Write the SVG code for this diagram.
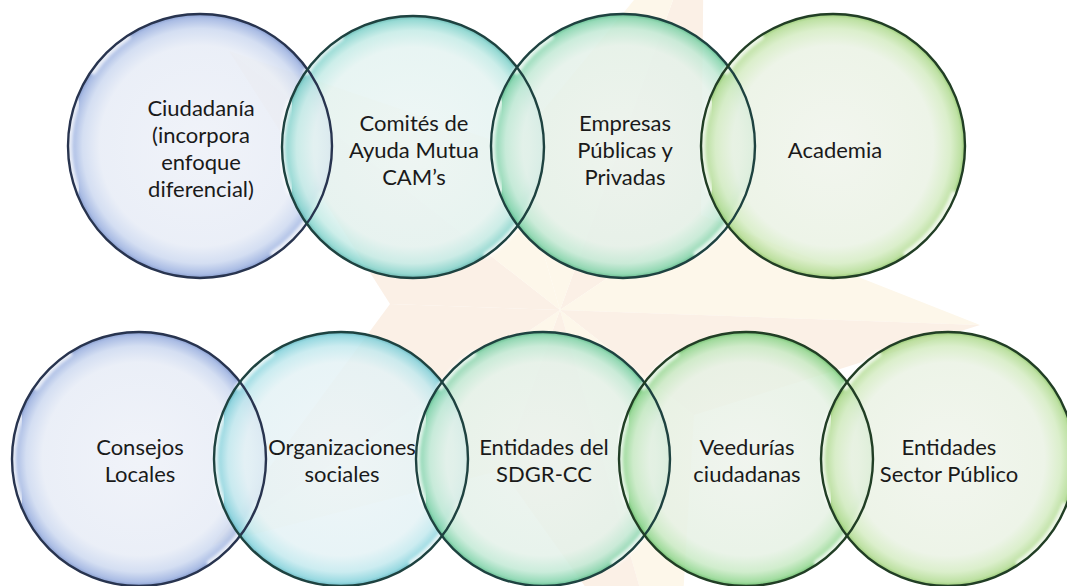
<svg xmlns="http://www.w3.org/2000/svg" width="1067" height="586" viewBox="0 0 1067 586">
  <defs>
    <style>
      .lbl { font-family: "Lato", "Carlito", "Liberation Sans", sans-serif; font-size: 22px; font-weight: 400; fill: #1a1a1a; text-anchor: middle; }
      .bub { fill-opacity: 0.86; }
      .hl { fill: none; stroke: #ffffff; stroke-width: 6; stroke-linecap: round; stroke-opacity: 0.8; filter: url(#soft); }
      .rimB { fill: none; stroke: #28344f; stroke-width: 2.4; }
      .rimT { fill: none; stroke: #1e4240; stroke-width: 2.4; }
      .rimG { fill: none; stroke: #213e25; stroke-width: 2.4; }
      .wmA { fill: #fbf0e6; }
      .wmB { fill: #fdf7ea; }
    </style>
    <filter id="soft" x="-20%" y="-20%" width="140%" height="140%">
      <feGaussianBlur stdDeviation="1.6"/>
    </filter>
    <radialGradient id="gBlue">
      <stop offset="0" stop-color="#eef1f8"/>
      <stop offset="0.76" stop-color="#e7ecf6"/>
      <stop offset="0.89" stop-color="#cdd9f0"/>
      <stop offset="0.97" stop-color="#9db2e0"/>
      <stop offset="1" stop-color="#738cc6"/>
    </radialGradient>
    <radialGradient id="gTeal">
      <stop offset="0" stop-color="#ecf5f4"/>
      <stop offset="0.76" stop-color="#e4f3f1"/>
      <stop offset="0.89" stop-color="#c4ebe6"/>
      <stop offset="0.97" stop-color="#86d4cd"/>
      <stop offset="1" stop-color="#55b0aa"/>
    </radialGradient>
    <radialGradient id="gCyan">
      <stop offset="0" stop-color="#ecf4f7"/>
      <stop offset="0.76" stop-color="#e4f2f5"/>
      <stop offset="0.89" stop-color="#c3e9ee"/>
      <stop offset="0.97" stop-color="#88d3dc"/>
      <stop offset="1" stop-color="#55afbb"/>
    </radialGradient>
    <radialGradient id="gSea">
      <stop offset="0" stop-color="#ecf3ee"/>
      <stop offset="0.76" stop-color="#e4f1e9"/>
      <stop offset="0.89" stop-color="#c2e9d5"/>
      <stop offset="0.97" stop-color="#84d4ac"/>
      <stop offset="1" stop-color="#4db380"/>
    </radialGradient>
    <radialGradient id="gGreen">
      <stop offset="0" stop-color="#eef3ec"/>
      <stop offset="0.76" stop-color="#e6f1e4"/>
      <stop offset="0.89" stop-color="#c9eac5"/>
      <stop offset="0.97" stop-color="#93d791"/>
      <stop offset="1" stop-color="#5cb65e"/>
    </radialGradient>
    <radialGradient id="gLime">
      <stop offset="0" stop-color="#f0f4ec"/>
      <stop offset="0.76" stop-color="#eaf2e4"/>
      <stop offset="0.89" stop-color="#d5ecc3"/>
      <stop offset="0.97" stop-color="#b3dc94"/>
      <stop offset="1" stop-color="#88c160"/>
    </radialGradient>
    <g id="gloss">
      <path class="hl" d="M -112 40 A 119 119 0 0 1 -112 -40"/>
      <path class="hl" d="M -97 -68 A 119 119 0 0 1 -66 -99" stroke-opacity="0.55"/>
      <path class="hl" d="M 110 44 A 119 119 0 0 1 67 98"/>
    </g>
  </defs>

  <rect width="1067" height="586" fill="#ffffff"/>

  <g id="watermark">
    <polygon class="wmA" points="560,310 704,-85 701,215"/>
    <polygon class="wmB" points="560,310 704,-85 513,147"/>
    <polygon class="wmB" points="560,310 980,325 701,215"/>
    <polygon class="wmA" points="560,310 980,325 694,415"/>
    <polygon class="wmB" points="560,310 676,714 694,415"/>
    <polygon class="wmA" points="560,310 676,714 502,470"/>
    <polygon class="wmB" points="560,310 212,545 502,470"/>
    <polygon class="wmA" points="560,310 212,545 390,304"/>
    <polygon class="wmA" points="560,310 229,51 390,304"/>
    <polygon class="wmB" points="560,310 229,51 513,147"/>
  </g>

  <g id="node-ciudadania">
    <circle class="bub" cx="200" cy="146" r="132" fill="url(#gBlue)"/>
    <use href="#gloss" transform="translate(200,146) scale(1.1)"/>
    <text class="lbl" x="201" y="116">Ciudadanía</text>
    <text class="lbl" x="201" y="143">(incorpora</text>
    <text class="lbl" x="201" y="170">enfoque</text>
    <text class="lbl" x="201" y="197">diferencial)</text>
  </g>
  <g id="node-cams">
    <circle class="bub" cx="413" cy="147" r="131" fill="url(#gTeal)"/>
    <use href="#gloss" transform="translate(413,147) scale(1.1)"/>
    <text class="lbl" x="414" y="131">Comités de</text>
    <text class="lbl" x="414" y="158">Ayuda Mutua</text>
    <text class="lbl" x="414" y="185">CAM’s</text>
  </g>
  <g id="node-empresas">
    <circle class="bub" cx="623" cy="146" r="132" fill="url(#gSea)"/>
    <use href="#gloss" transform="translate(623,146) scale(1.1)"/>
    <text class="lbl" x="625" y="131">Empresas</text>
    <text class="lbl" x="625" y="158">Públicas y</text>
    <text class="lbl" x="625" y="185">Privadas</text>
  </g>
  <g id="node-academia">
    <circle class="bub" cx="833" cy="146" r="132" fill="url(#gLime)"/>
    <use href="#gloss" transform="translate(833,146) scale(1.1)"/>
    <text class="lbl" x="835" y="158">Academia</text>
  </g>

  <g id="node-consejos">
    <circle class="bub" cx="139" cy="459" r="127" fill="url(#gBlue)"/>
    <use href="#gloss" transform="translate(139,459) scale(1.06)"/>
    <text class="lbl" x="140" y="455">Consejos</text>
    <text class="lbl" x="140" y="482">Locales</text>
  </g>
  <g id="node-organizaciones">
    <circle class="bub" cx="341" cy="459" r="127" fill="url(#gCyan)"/>
    <use href="#gloss" transform="translate(341,459) scale(1.06)"/>
    <text class="lbl" x="342" y="455">Organizaciones</text>
    <text class="lbl" x="342" y="482">sociales</text>
  </g>
  <g id="node-sdgr">
    <circle class="bub" cx="543" cy="459" r="127" fill="url(#gSea)"/>
    <use href="#gloss" transform="translate(543,459) scale(1.06)"/>
    <text class="lbl" x="544" y="455">Entidades del</text>
    <text class="lbl" x="544" y="482">SDGR-CC</text>
  </g>
  <g id="node-veedurias">
    <circle class="bub" cx="746" cy="459" r="127" fill="url(#gGreen)"/>
    <use href="#gloss" transform="translate(746,459) scale(1.06)"/>
    <text class="lbl" x="747" y="455">Veedurías</text>
    <text class="lbl" x="747" y="482">ciudadanas</text>
  </g>
  <g id="node-sector-publico">
    <circle class="bub" cx="948" cy="459" r="127" fill="url(#gLime)"/>
    <use href="#gloss" transform="translate(948,459) scale(1.06)"/>
    <text class="lbl" x="949" y="455">Entidades</text>
    <text class="lbl" x="949" y="482">Sector Público</text>
  </g>

  <g id="outlines">
    <circle class="rimB" cx="200" cy="146" r="132"/>
    <circle class="rimT" cx="413" cy="147" r="131"/>
    <circle class="rimT" cx="623" cy="146" r="132"/>
    <circle class="rimG" cx="833" cy="146" r="132"/>
    <circle class="rimB" cx="139" cy="459" r="127"/>
    <circle class="rimT" cx="341" cy="459" r="127"/>
    <circle class="rimT" cx="543" cy="459" r="127"/>
    <circle class="rimG" cx="746" cy="459" r="127"/>
    <circle class="rimG" cx="948" cy="459" r="127"/>
  </g>
</svg>
